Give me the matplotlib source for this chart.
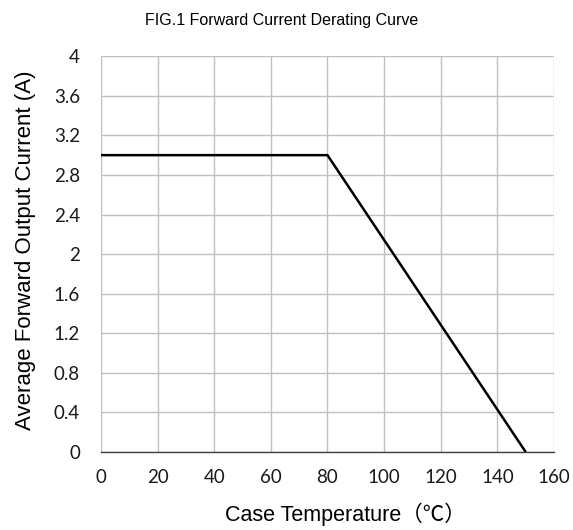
import matplotlib.pyplot as plt

# Derating curve points
temperature = [0, 80, 150]      # case temperature (C)
current = [3.0, 3.0, 0.0]       # average forward output current (A)

x_ticks = [0, 20, 40, 60, 80, 100, 120, 140, 160]
y_ticks = [0, 0.4, 0.8, 1.2, 1.6, 2.0, 2.4, 2.8, 3.2, 3.6, 4.0]
y_labels = ['0', '0.4', '0.8', '1.2', '1.6', '2', '2.4', '2.8', '3.2', '3.6', '4']

fig = plt.figure(figsize=(5.73, 5.30), dpi=100)
ax = fig.add_axes([0.176, 0.147, 0.791, 0.747])

ax.plot(temperature, current, color='black', linewidth=1.8, solid_capstyle='butt', zorder=3)

ax.set_xlim(0, 160)
ax.set_ylim(0, 4)
ax.set_xticks(x_ticks)
ax.set_yticks(y_ticks)
ax.set_yticklabels(y_labels)
ax.grid(True, color='#c0c0c0', linewidth=1.0)

for side in ['top', 'right', 'left']:
    ax.spines[side].set_visible(False)
ax.spines['bottom'].set_color('#404040')
ax.spines['bottom'].set_linewidth(1.0)

ax.tick_params(length=0, labelsize=13.5, colors='#1a1a1a')
ax.tick_params(axis='y', pad=15)
ax.tick_params(axis='x', pad=12)
for lbl in ax.get_xticklabels() + ax.get_yticklabels():
    lbl.set_family('Lato')

ax.set_xlabel('Case Temperature（℃）', fontsize=15.5,
              family=['Liberation Sans', 'Noto Sans CJK SC'])
ax.set_ylabel('Average Forward Output Current (A)', fontsize=16,
              family='Liberation Sans')
ax.xaxis.set_label_coords(0.54, -0.128)
ax.yaxis.set_label_coords(-0.143, 0.51)
fig.text(0.492, 0.962, 'FIG.1 Forward Current Derating Curve', fontsize=11.5,
         family='Liberation Sans', ha='center', va='center')

fig.savefig('out.png', dpi=100)
